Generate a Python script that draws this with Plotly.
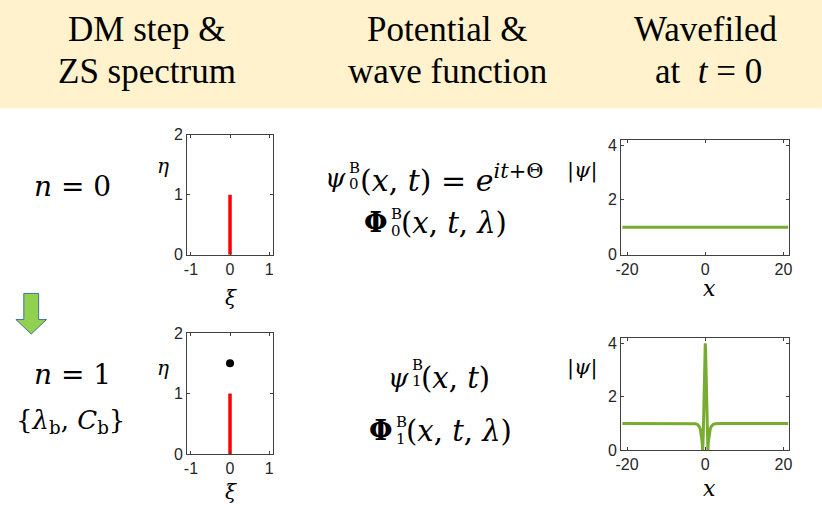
import plotly.graph_objects as go

W, H = 822, 523

# ---------------- data ----------------
spec_xi = [0, 0]
spec_eta = [0, 1]
dot_xi = [0]
dot_eta = [1.5]

bg_x = [-21.2, 21.2]
bg_psi = [1, 1]

br_x = [-21.2, -4, -3, -2.5, -2, -1.5, -1.25, -1.0, -0.8, -0.7, -0.67, -0.6, -0.5, -0.4, -0.3, -0.2, -0.1, 0,
        0.1, 0.2, 0.3, 0.4, 0.5, 0.6, 0.67, 0.7, 0.8, 1.0, 1.25, 1.5, 2, 2.5, 3, 4, 21.2]
br_psi = [1, 1.0, 0.996, 0.988, 0.961, 0.878, 0.779, 0.59, 0.309, 0.086, 0.0, 0.211, 0.625, 1.191, 1.94, 2.831, 3.649, 4.0,
          3.649, 2.831, 1.94, 1.191, 0.625, 0.211, 0.0, 0.086, 0.309, 0.59, 0.779, 0.878, 0.961, 0.988, 0.996, 1.0, 1]

spec_xticks = [-1, 0, 1]
spec_yticks = [0, 1, 2]
wave_xticks = [-20, 0, 20]
wave_yticks = [0, 2, 4]

# ---------------- helpers ----------------
def px(x):
    return x / W

def py(y):
    return 1 - y / H

RED = "#FF0000"
GREEN = "#77AC30"
AX = "#404040"
TICKF = dict(family="Liberation Sans, Arial", size=16, color="#262626")
MATH = "DejaVu Serif"
TIMES = "Liberation Serif"

fig = go.Figure()

fig.add_trace(go.Scatter(x=spec_xi, y=spec_eta, mode="lines", line=dict(color=RED, width=3.5),
                         xaxis="x", yaxis="y", showlegend=False))
fig.add_trace(go.Scatter(x=spec_xi, y=spec_eta, mode="lines", line=dict(color=RED, width=3.5),
                         xaxis="x2", yaxis="y2", showlegend=False))
fig.add_trace(go.Scatter(x=dot_xi, y=dot_eta, mode="markers", marker=dict(color="black", size=8),
                         xaxis="x2", yaxis="y2", showlegend=False))
fig.add_trace(go.Scatter(x=bg_x, y=bg_psi, mode="lines", line=dict(color=GREEN, width=3),
                         xaxis="x3", yaxis="y3", showlegend=False))
fig.add_trace(go.Scatter(x=br_x, y=br_psi, mode="lines", line=dict(color=GREEN, width=3),
                         xaxis="x4", yaxis="y4", showlegend=False))

def axstyle(domain, rng, ticks, anchor):
    return dict(domain=domain, range=rng, tickvals=ticks, ticktext=[str(t) if t >= 0 else "-" + str(-t) for t in ticks],
                showline=True, linecolor=AX, linewidth=1, mirror="ticks", ticks="inside", ticklen=3,
                tickcolor=AX, showgrid=False, zeroline=False, tickfont=TICKF, anchor=anchor, fixedrange=True)

layout = dict(
    width=W, height=H, margin=dict(l=0, r=0, t=0, b=0),
    paper_bgcolor="white", plot_bgcolor="white", showlegend=False,
    xaxis=axstyle([px(183), px(270)], [-1.1, 1.1], spec_xticks, "y"),
    yaxis=axstyle([py(255), py(131)], [0, 2], spec_yticks, "x"),
    xaxis2=axstyle([px(183), px(270)], [-1.1, 1.1], spec_xticks, "y2"),
    yaxis2=axstyle([py(461), py(336)], [0, 2], spec_yticks, "x2"),
    xaxis3=axstyle([px(622), px(792)], [-21.5, 21.5], wave_xticks, "y3"),
    yaxis3=axstyle([py(255), py(136)], [0, 4.2], wave_yticks, "x3"),
    xaxis4=axstyle([px(622), px(792)], [-21.5, 21.5], wave_xticks, "y4"),
    yaxis4=axstyle([py(457), py(341)], [0, 4.2], wave_yticks, "x4"),
)
fig.update_layout(**layout)

shapes = [
    dict(type="rect", xref="paper", yref="paper", x0=-0.05, x1=1.05, y0=py(104), y1=1.05,
         fillcolor="#FFF2CC", line=dict(width=0), layer="below"),
]
arrow = [(18, 295), (33, 295), (33, 322), (41, 322), (25.5, 337), (10, 322), (18, 322)]
path = "M " + " L ".join(f"{px(a):.5f},{py(b):.5f}" for a, b in arrow) + " Z"
shapes.append(dict(type="path", xref="paper", yref="paper", path=path,
                   fillcolor="#92D050", line=dict(color="#41719C", width=1)))
fig.update_layout(shapes=shapes)

ann = []
def T(x, y, text, size, family=MATH, xanchor="center", color="black"):
    ann.append(dict(xref="paper", yref="paper", x=px(x), y=py(y), text=text, showarrow=False,
                    xanchor=xanchor, yanchor="middle", borderpad=0,
                    font=dict(family=family, size=size, color=color)))

# header
T(143, 22, "DM step &amp;", 35, TIMES)
T(143, 66, "ZS spectrum", 35, TIMES)
T(446, 22, "Potential &amp;", 35, TIMES)
T(446, 66, "wave function", 35, TIMES)
T(707, 22, "Wavefiled", 35, TIMES)
T(710, 66, "at  <i>t</i> = 0", 35, TIMES)

# left labels
T(67, 184, "<i>n</i> = 0", 28)
T(67, 379, "<i>n</i> = 1", 28)
T(65, 427, "{<i>λ</i><sub>b</sub>, <i>C</i><sub>b</sub>}", 26)

# formulas row 1
T(345, 176, "<i>ψ</i>", 26, xanchor="right")
T(346, 165, "B", 15, xanchor="left")
T(346, 182, "0", 15, xanchor="left")
T(357, 176, "(<i>x</i>, <i>t</i>) = <i>e</i><sup><i>it</i>+Θ</sup>", 30, xanchor="left")
T(387, 222, "<b>Φ</b>", 27, xanchor="right")
T(388, 213, "B", 15, xanchor="left")
T(388, 230, "0", 15, xanchor="left")
T(398, 222, "(<i>x</i>, <i>t</i>, <i>λ</i>)", 29, xanchor="left")

# formulas row 2
T(408, 382, "<i>ψ</i>", 26, xanchor="right")
T(409, 369, "B", 15, xanchor="left")
T(409, 386, "1", 15, xanchor="left")
T(419, 382, "(<i>x</i>, <i>t</i>)", 29, xanchor="left")
T(392, 437, "<b>Φ</b>", 27, xanchor="right")
T(393, 428, "B", 15, xanchor="left")
T(393, 445, "1", 15, xanchor="left")
T(403, 437, "(<i>x</i>, <i>t</i>, <i>λ</i>)", 29, xanchor="left")

# axis labels
T(159, 163, "<i>η</i>", 20)
T(159, 372, "<i>η</i>", 20)
T(227, 300, "<i>ξ</i>", 20)
T(227, 500, "<i>ξ</i>", 20)
T(583, 168, "|<i>ψ</i>|", 21)
T(583, 372, "|<i>ψ</i>|", 21)
T(711, 290, "<i>x</i>", 22)
T(711, 497, "<i>x</i>", 22)

fig.update_layout(annotations=ann)
fig.write_html("out.html", config={"displayModeBar": False},
               post_script="document.body.style.margin='0';document.body.style.overflow='hidden';")
